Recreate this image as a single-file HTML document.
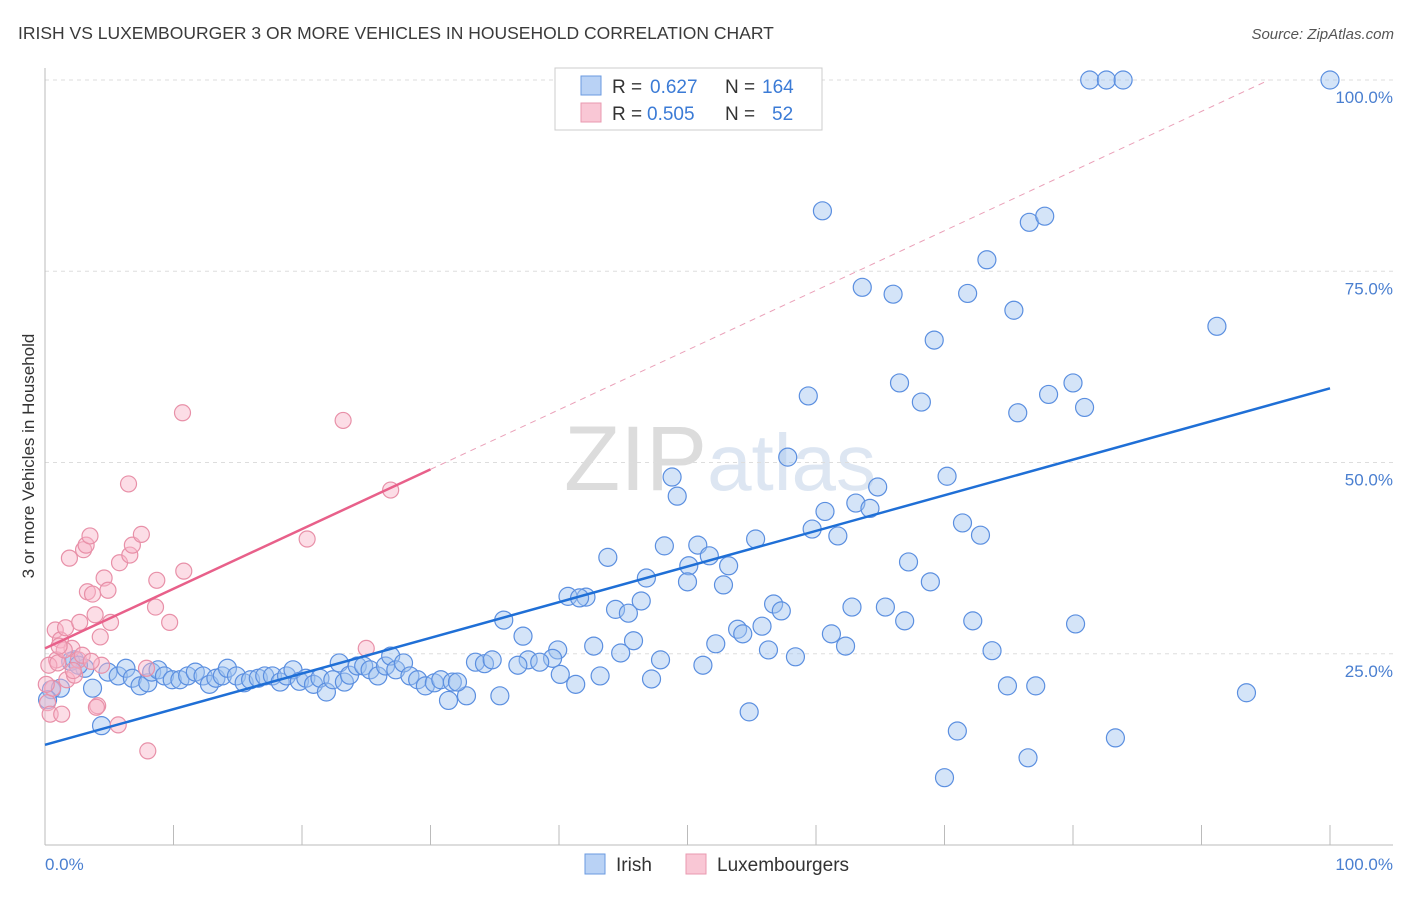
<!DOCTYPE html>
<html><head><meta charset="utf-8"><style>
body{margin:0;background:#fff;font-family:"Liberation Sans",sans-serif;}
svg text{font-family:"Liberation Sans",sans-serif;}
</style></head><body>
<svg id="chart" width="1406" height="892" xmlns="http://www.w3.org/2000/svg">
<text x="18" y="39" font-size="17.5" fill="#3a3a3a">IRISH VS LUXEMBOURGER 3 OR MORE VEHICLES IN HOUSEHOLD CORRELATION CHART</text>
<text x="1394" y="39" font-size="15" fill="#555" font-style="italic" text-anchor="end">Source: ZipAtlas.com</text>
<text x="720" y="490" font-size="92" fill="#e3e3e3" text-anchor="middle" font-family="Liberation Serif"><tspan fill="#dcdcdc">ZIP</tspan><tspan fill="#dde6f2" font-family="Liberation Sans" font-size="80">atlas</tspan></text>
<g id="grid"></g>
<g id="axes"></g>
<g id="marks"></g>
<g>
<rect x="555" y="68" width="267" height="62" fill="#fff" stroke="#ccc"/>
<rect x="581" y="76" width="20" height="19" fill="#b9d2f5" stroke="#6a9ae0"/>
<text x="612" y="93" font-size="19" fill="#333">R =</text>
<text x="650" y="93" font-size="19" fill="#3b7bd6">0.627</text>
<text x="725" y="93" font-size="19" fill="#333">N =</text>
<text x="762" y="93" font-size="19" fill="#3b7bd6">164</text>
<rect x="581" y="103" width="20" height="19" fill="#f9c7d5" stroke="#e99ab0"/>
<text x="612" y="120" font-size="19" fill="#333">R =</text>
<text x="647" y="120" font-size="19" fill="#3b7bd6">0.505</text>
<text x="725" y="120" font-size="19" fill="#333">N =</text>
<text x="772" y="120" font-size="19" fill="#3b7bd6">52</text>
</g>
<text transform="translate(34,456) rotate(-90)" font-size="17" fill="#333" text-anchor="middle">3 or more Vehicles in Household</text>
<text x="45" y="870" font-size="17" fill="#4a7fd0">0.0%</text>
<text x="1393" y="870" font-size="17" fill="#4a7fd0" text-anchor="end">100.0%</text>
<g>
<rect x="585" y="854" width="20" height="20" fill="#b9d2f5" stroke="#6a9ae0"/>
<text x="616" y="871" font-size="19" fill="#333">Irish</text>
<rect x="686" y="854" width="20" height="20" fill="#f9c7d5" stroke="#e99ab0"/>
<text x="717" y="871" font-size="19" fill="#333">Luxembourgers</text>
</g>
</svg>
<script>
const yTicks=[25,50,75,100];
const yTickLabels=["25.0%","50.0%","75.0%","100.0%"];
const irishX=[81.3,82.6,83.9,100,60.5,76.6,77.8,73.3,63.6,66.0,71.8,75.4,69.2,91.2,66.5,80.0,59.4,68.2,78.1,80.9,75.7,57.8,48.8,70.2,49.2,64.8,63.1,64.2,60.7,59.7,71.4,72.8,61.7,55.3,48.2,50.8,51.7,43.8,50.1,53.2,46.8,50.0,52.8,67.2,68.9,40.7,42.1,41.6,46.4,44.4,45.4,35.7,56.7,57.3,62.8,65.4,66.9,72.2,80.2,53.9,55.8,54.3,61.2,37.2,52.2,45.8,42.7,44.8,62.3,56.3,73.7,58.4,47.9,51.2,39.9,39.5,37.6,38.5,36.8,33.5,34.2,34.8,40.1,43.2,41.3,47.2,74.9,77.1,93.5,54.8,71.0,83.3,76.5,70.0,35.4,32.8,31.4,
0.5,1.2,2.3,3.1,3.7,4.4,4.9,5.7,6.3,6.8,7.4,8.0,8.3,8.8,9.3,9.9,10.5,11.1,11.7,12.3,12.8,13.3,13.8,14.2,14.9,15.5,16.0,16.6,17.1,17.7,18.3,18.8,19.3,19.8,20.3,20.9,21.4,21.9,22.4,22.9,23.3,23.7,24.3,24.8,25.3,25.9,26.5,26.9,27.3,27.9,28.4,29.0,29.6,30.3,30.8,31.7,32.1,0.2,2.0,2.6];
const irishY=[100,100,100,100,82.9,81.4,82.2,76.5,72.9,72.0,72.1,69.9,66.0,67.8,60.4,60.4,58.7,57.9,58.9,57.2,56.5,50.7,48.1,48.2,45.6,46.8,44.7,44.0,43.6,41.3,42.1,40.5,40.4,40.0,39.1,39.2,37.8,37.6,36.5,36.5,34.9,34.4,34.0,37.0,34.4,32.5,32.4,32.3,31.9,30.8,30.3,29.4,31.5,30.6,31.1,31.1,29.3,29.3,28.9,28.2,28.6,27.6,27.6,27.3,26.3,26.7,26.0,25.1,26.0,25.5,25.4,24.6,24.2,23.5,25.5,24.4,24.2,23.9,23.5,23.9,23.7,24.2,22.3,22.1,21.0,21.7,20.8,20.8,19.9,17.4,14.9,14.0,11.4,8.8,19.5,19.5,18.9,
20.3,20.5,24.2,23.1,20.5,15.6,22.6,22.1,23.1,21.8,20.8,21.2,22.6,22.9,22.1,21.6,21.6,22.1,22.6,22.1,21.0,21.8,22.1,23.1,22.1,21.2,21.6,21.8,22.1,22.1,21.3,22.1,22.9,21.4,21.8,21.0,21.8,20.0,21.6,23.8,21.3,22.2,23.4,23.4,22.9,22.1,23.4,24.7,22.9,23.8,22.1,21.6,20.8,21.2,21.6,21.3,21.3,19.0,24.0,23.5];
const luxX=[0.2,0.4,0.8,0.9,1.2,1.3,1.6,1.7,1.9,2.1,2.3,2.6,2.7,3.0,3.2,3.3,3.5,3.7,3.9,4.1,4.3,4.4,4.6,4.9,5.1,5.7,5.8,6.6,6.8,6.5,7.5,7.9,8.0,8.6,8.7,9.7,10.7,10.8,20.4,23.2,25.0,26.9,0.3,1.0,1.5,2.2,2.9,0.6,1.1,3.6,4.0,0.1];
const luxY=[18.6,17.1,28.1,24.2,26.8,17.1,28.4,21.6,37.5,25.7,22.2,24.2,29.1,38.6,39.2,33.1,40.4,32.8,30.1,18.2,27.2,23.5,34.9,33.3,29.1,15.7,36.9,37.9,39.2,47.2,40.6,23.1,12.3,31.1,34.6,29.1,56.5,35.8,40.0,55.5,25.7,46.4,23.5,23.8,25.5,22.8,24.8,20.5,26.0,24.0,18.0,21.0];
const irishTrend=[13.1,59.7];
const luxTrend=[25.7,0.78];
const X0=45,X1=1330,Y0=845,Y100=80;
const sx=v=>X0+(X1-X0)*v/100;
const sy=v=>Y0-(Y0-Y100)*v/100;
const NS="http://www.w3.org/2000/svg";
function mk(tag,attrs,parent){const e=document.createElementNS(NS,tag);for(const k in attrs)e.setAttribute(k,attrs[k]);parent.appendChild(e);return e;}
const grid=document.getElementById('grid'),axes=document.getElementById('axes'),marks=document.getElementById('marks');
yTicks.forEach((t,i)=>{
 const g=mk('line',{x1:45,x2:1393,y1:sy(t),y2:sy(t),stroke:'#ddd','stroke-dasharray':'4,4'},grid);
 
 
 const l=mk('text',{x:1393,y:sy(t)+23,'font-size':17,fill:'#4a7fd0','text-anchor':'end'},axes);
 l.textContent=yTickLabels[i];
 
 
});
const ax=mk('line',{x1:45,x2:45,y1:68,y2:845,stroke:'#bbb'},axes);


const bx=mk('line',{x1:45,x2:1393,y1:845,y2:845,stroke:'#bbb'},axes);


for(let i=0;i<=10;i++){const t=mk('line',{x1:sx(i*10),x2:sx(i*10),y1:825,y2:845,stroke:'#bbb'},axes);
 
 }
irishX.forEach((x,i)=>{const c=mk('circle',{cx:sx(x),cy:sy(irishY[i]),r:9,fill:'rgba(160,196,240,0.45)',stroke:'#5b8fe0','stroke-width':1.2},marks);
 
 });
luxX.forEach((x,i)=>{const c=mk('circle',{cx:sx(x),cy:sy(luxY[i]),r:8,fill:'rgba(248,180,200,0.45)',stroke:'#e890a8','stroke-width':1.2},marks);
 
 });
const bl=mk('line',{x1:sx(0),y1:sy(irishTrend[0]),x2:sx(100),y2:sy(irishTrend[1]),stroke:'#1f6fd6','stroke-width':2.5},marks);


const pl=mk('line',{x1:sx(0),y1:sy(luxTrend[0]),x2:sx(30),y2:sy(luxTrend[0]+30*luxTrend[1]),stroke:'#e8608a','stroke-width':2.5},marks);


const xe=(100-luxTrend[0])/luxTrend[1];
const pd=mk('line',{x1:sx(30),y1:sy(luxTrend[0]+30*luxTrend[1]),x2:sx(xe),y2:sy(100),stroke:'#eaa0b8','stroke-width':1,'stroke-dasharray':'6,5'},marks);


</script>
</body></html>
